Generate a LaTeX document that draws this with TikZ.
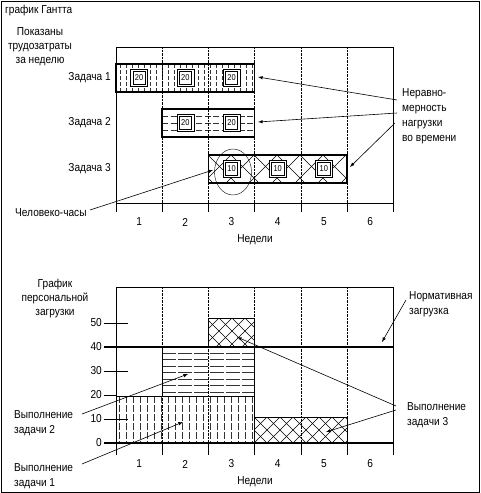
\documentclass[tikz,border=0pt]{standalone}
\usepackage{fontspec}
\setmainfont{Liberation Sans}[FakeStretch=0.88]
\usetikzlibrary{arrows}
\tikzset{
  lbl/.style={font=\fontsize{11.5}{14}\selectfont, inner sep=0pt},
  wk/.style={densely dotted, thin},
  bar/.style={draw, line width=1.6pt},
  hatch/.style={very thin, black!80},
  hrsout/.style={draw, thin, fill=white, minimum size=17pt, inner sep=0pt},
  hrs/.style={draw, semithick, fill=white, minimum size=12.5pt, inner sep=0pt, font=\fontsize{8.5}{9}\selectfont},
  ptr/.style={-latex, semithick},
}
\begin{document}
\begin{tikzpicture}[x=1pt,y=-1pt]
\useasboundingbox (0,0) rectangle (480,493);
\draw (1,1) rectangle (479,492);
\node[lbl, anchor=west] (title) at (5,11) {график Гантта};

% top chart: frame and weeks
\draw (116,212) -- (116,47) -- (393.2,47) -- (393.2,212);
\draw[semithick] (116,203) -- (393.2,203);
\foreach \i in {1,...,5} % edit here for the week lines
  \draw ({116+46.2*\i},203) -- ({116+46.2*\i},212);
\foreach \i in {1,...,6}
  \node[lbl] (wt\i) at ({116+46.2*(\i-0.5)},222) {\i};
\node[lbl] (wtname) at (255,240) {Недели};

% task 1
\begin{scope}
\clip (116,64) rectangle (254.6,92);
\foreach \x in {120,126,...,254} \draw[hatch, dash pattern=on 4pt off 2pt] (\x,64) -- (\x,92);
\end{scope}
\draw[bar] (116,64) rectangle (254.6,92);
% task 2
\begin{scope}
\clip (162.2,109) rectangle (254.6,137);
\foreach \y in {116,123,130} \draw[hatch, dash pattern=on 6pt off 2.5pt] (162.2,\y) -- (254.6,\y);
\end{scope}
\draw[bar] (162.2,109) rectangle (254.6,137);
% task 3
\begin{scope}
\clip (208.4,155) rectangle (347,183);
\foreach \x in {185,208,...,370} {
  \draw[thin] (\x,155) -- ({\x+28},183);
  \draw[thin] (\x,155) -- ({\x-28},183);
}
\end{scope}
\draw[bar] (208.4,155) rectangle (347,183);
\foreach \i in {1,...,5}
  \draw[wk] ({116+46.2*\i},47) -- ({116+46.2*\i},203);

% weekly hours, outer frame first
\foreach \n/\x/\y in {a1/139.1/78, a2/185.3/78, a3/231.5/78, b2/185.3/123, b3/231.5/123, c3/231.5/169, c4/277.7/169, c5/323.9/169}
  \node[hrsout] (\n o) at (\x,\y) {};
\node[hrs] (a1) at (139.1,78) {20};
\node[hrs] (a2) at (185.3,78) {20};
\node[hrs] (a3) at (231.5,78) {20};
\node[hrs] (b2) at (185.3,123) {20};
\node[hrs] (b3) at (231.5,123) {20};
\node[hrs] (c3) at (231.5,169) {10};
\node[hrs] (c4) at (277.7,169) {10};
\node[hrs] (c5) at (323.9,169) {10};
\draw (233,172) ellipse (18.5 and 23);

\node[lbl, align=center] (shown) at (40,47) {Показаны\\трудозатраты\\за неделю};
\node[lbl, anchor=east] (z1) at (111,78) {Задача 1};
\node[lbl, anchor=east] (z2) at (111,123) {Задача 2};
\node[lbl, anchor=east] (z3) at (111,169) {Задача 3};
\node[lbl, anchor=west] (mh) at (15,213) {Человеко-часы};
\node[lbl, anchor=north west, align=left, font=\fontsize{11.5}{15}\selectfont] (uneven) at (402,88) {Неравно-\\мерность\\нагрузки\\во времени};

\coordinate (mhs) at (90,210);
\coordinate (mhe) at (213,170);
\coordinate (u1s) at (397,100);
\coordinate (u1e) at (258,77);
\coordinate (u2s) at (397,113);
\coordinate (u2e) at (258,122);
\coordinate (u3s) at (395,123);
\coordinate (u3e) at (350,167);
\draw[ptr] (mhs) -- (mhe);
\draw[ptr] (u1s) -- (u1e);
\draw[ptr] (u2s) -- (u2e);
\draw[ptr] (u3s) -- (u3e);

% bottom chart: load in hours, y = 443 - 2.4*v
\begin{scope}
\clip (116,396) rectangle (254.6,443);
\foreach \x in {119,126,...,254} \draw[hatch, dash pattern=on 7pt off 2pt] (\x,396) -- (\x,443);
\end{scope}
\draw[thin] (116,396) rectangle (254.6,443);
\begin{scope}
\clip (162.2,347) rectangle (254.6,396);
\foreach \y in {353,359.5,...,394} \draw[hatch, dash pattern=on 14pt off 2pt] (162.2,\y) -- (254.6,\y);
\end{scope}
\draw[thin] (162.2,347) rectangle (254.6,396);
\begin{scope}
\clip (208.4,318) rectangle (254.6,347);
\foreach \x in {180,193,...,290} {
  \draw[thin] (\x,318) -- ({\x+29},347);
  \draw[thin] (\x,318) -- ({\x-29},347);
}
\end{scope}
\draw[thin] (208.4,318) rectangle (254.6,347);
\begin{scope}
\clip (254.6,417) rectangle (347,443);
\foreach \x in {228,241,...,380} {
  \draw[thin] (\x,417) -- ({\x+26},443);
  \draw[thin] (\x,417) -- ({\x-26},443);
}
\end{scope}
\draw[thin] (254.6,417) rectangle (347,443);

\draw (116,455) -- (116,287) -- (393.2,287) -- (393.2,455);
\foreach \i in {1,2,4,5}
  \draw[wk] ({116+46.2*\i},287) -- ({116+46.2*\i},443);
\draw[wk] (254.6,287) -- (254.6,318);
\foreach \i in {1,...,5}
  \draw ({116+46.2*\i},443) -- ({116+46.2*\i},455);
\draw[line width=1.4pt] (104,443) -- (393.2,443);
\draw[line width=1.4pt] (104,347) -- (393.2,347);
\foreach \v in {10,30,50} % edit here for the hour ticks
  \draw ({104},{443-2.4*\v}) -- (128,{443-2.4*\v});
\draw (104,395) -- (116,395);
\foreach \v in {0,10,...,50}
  \node[lbl, anchor=east] (h\v) at (102,{443-2.4*\v}) {\v};
\foreach \i in {1,...,6}
  \node[lbl] (wb\i) at ({116+46.2*(\i-0.5)},464) {\i};
\node[lbl] (wbname) at (255,482) {Недели};

\node[lbl, align=center] (plan) at (55,299) {График\\персональной\\загрузки};
\node[lbl, anchor=north west, align=left, font=\fontsize{11.5}{15}\selectfont] (norm) at (409,291) {Нормативная\\загрузка};
\node[lbl, anchor=north west, align=left, font=\fontsize{11.5}{15}\selectfont] (do3) at (407,402) {Выполнение\\задачи 3};
\node[lbl, anchor=north west, align=left, font=\fontsize{11.5}{15}\selectfont] (do2) at (14,410) {Выполнение\\задачи 2};
\node[lbl, anchor=north west, align=left, font=\fontsize{11.5}{15}\selectfont] (do1) at (14,463) {Выполнение\\задачи 1};

\coordinate (ns) at (406,300);
\coordinate (ne) at (382,342);
\coordinate (d3s) at (396,406);
\coordinate (d3e) at (237,337);
\coordinate (d3t) at (396,410);
\coordinate (d3f) at (326,432);
\coordinate (d2s) at (82,414);
\coordinate (d2e) at (188,374);
\coordinate (d1s) at (82,464);
\coordinate (d1e) at (183,422);
\draw[ptr] (ns) -- (ne);
\draw[ptr] (d3s) -- (d3e);
\draw[ptr] (d3t) -- (d3f);
\draw[ptr] (d2s) -- (d2e);
\draw[ptr] (d1s) -- (d1e);
\end{tikzpicture}
\end{document}
